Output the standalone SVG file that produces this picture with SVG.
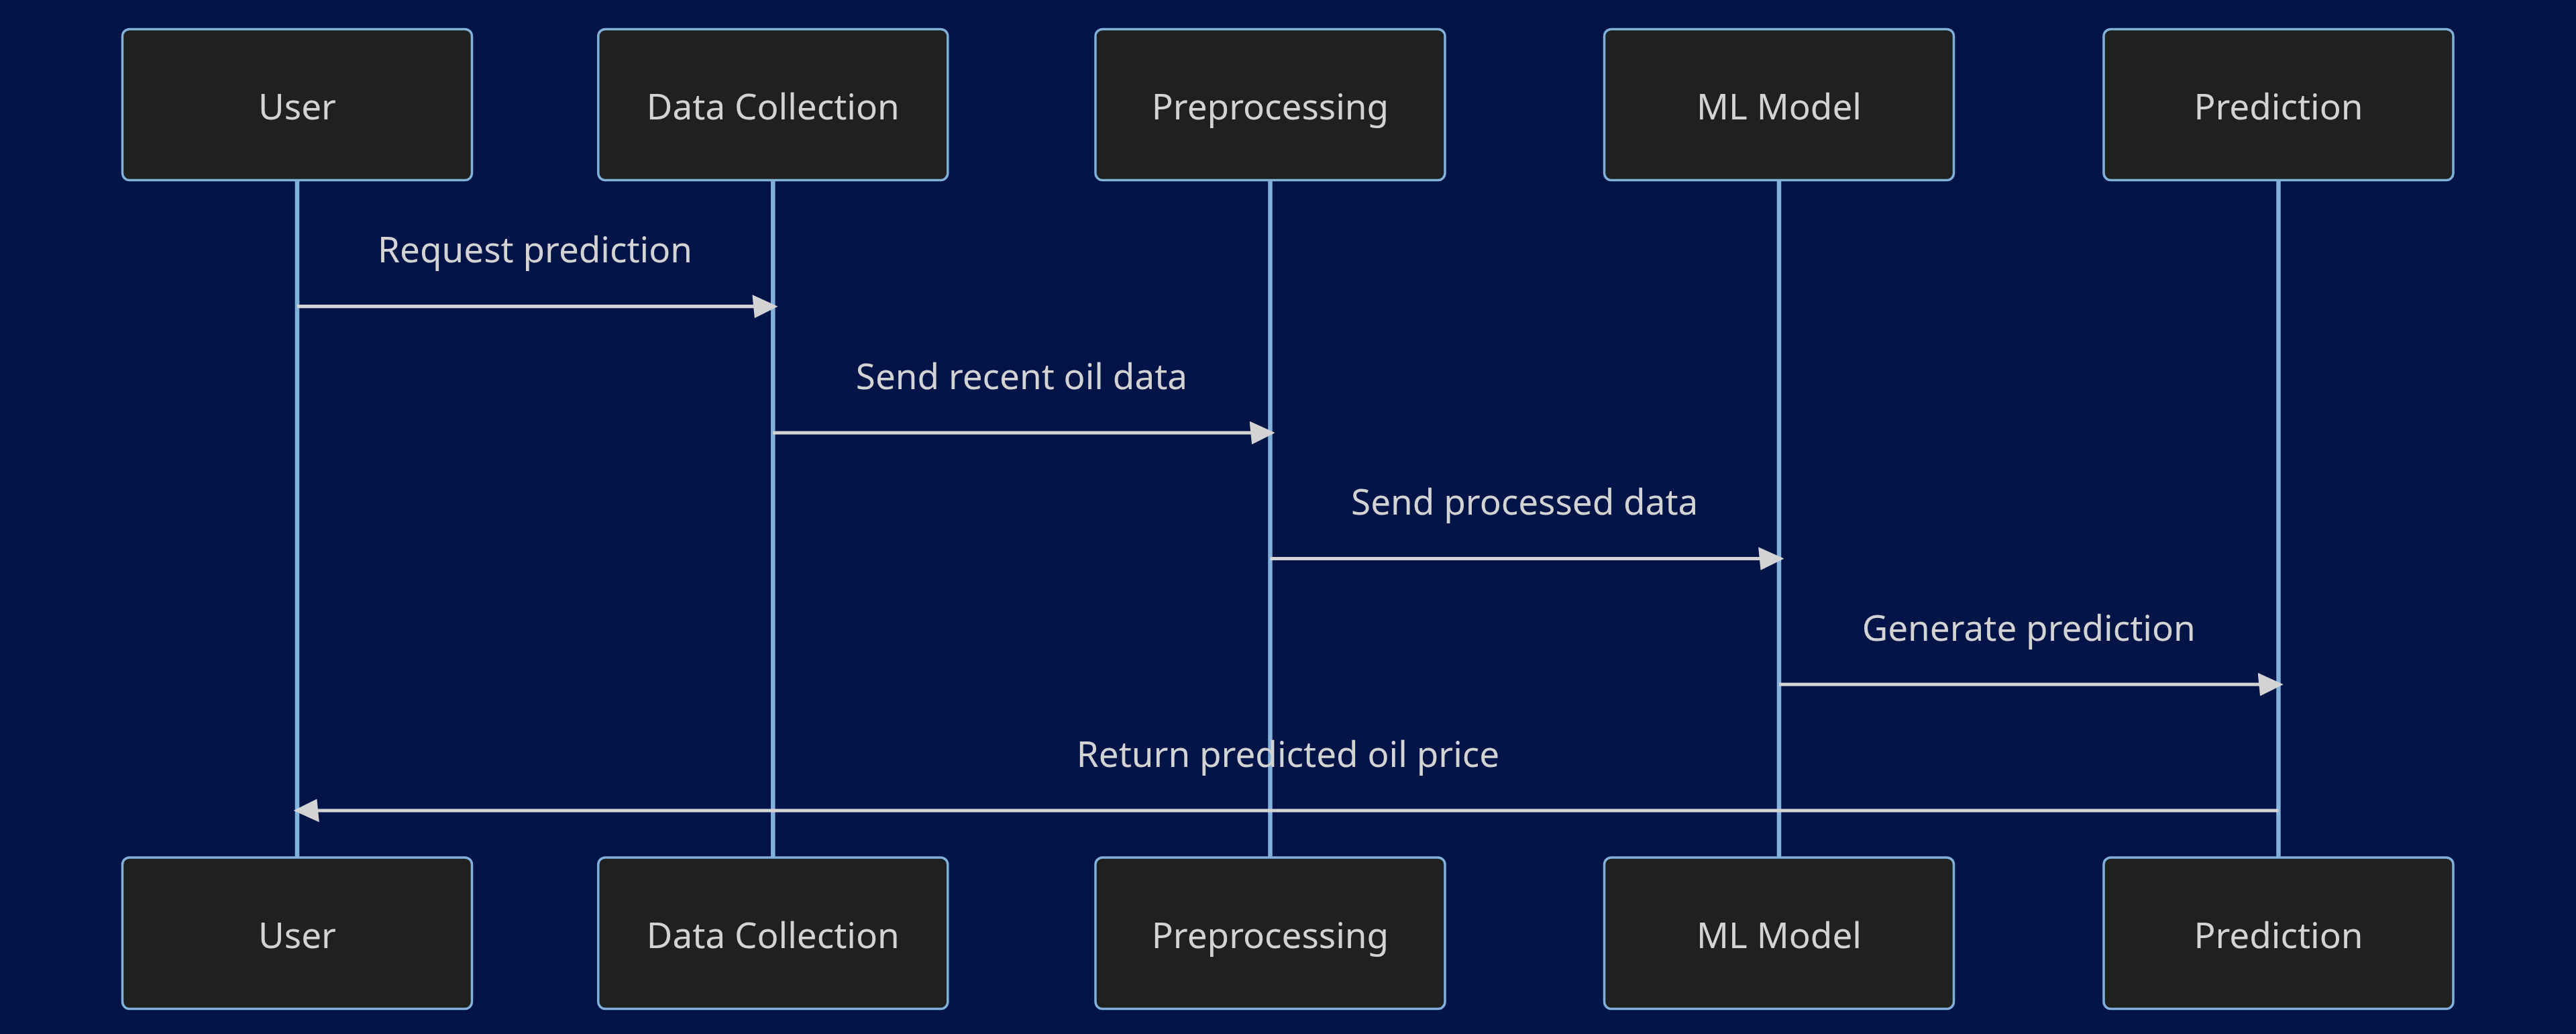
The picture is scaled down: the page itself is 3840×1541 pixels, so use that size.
<svg xmlns="http://www.w3.org/2000/svg" width="3840" height="1541" viewBox="0 0 3840 1541">
<style>
.bg{fill:#001447}
.actor{fill:#1f2020;stroke:#81b1db;stroke-width:3.5}
.atext{fill:#d3d3d3;font-family:"Noto Sans","Open Sans",sans-serif;font-size:53px;text-anchor:middle}
.life{stroke:#81b1db;stroke-width:6.5}
.msg{stroke:#d3d3d3;stroke-width:5.2;fill:none}
.mtext{fill:#d3d3d3;font-family:"Noto Sans","Open Sans",sans-serif;font-size:53px;text-anchor:middle}
</style>
<defs>
<marker id="arrow" viewBox="-1 0 11 10" refX="7.9" refY="5" markerWidth="38.2" markerHeight="34.7" markerUnits="userSpaceOnUse" orient="auto">
<path d="M -1 0 L 10 5 L 0 10 z" fill="#d3d3d3"/>
</marker>
</defs>
<rect class="bg" x="0" y="0" width="3840" height="1541"/>
<g id="lifelines">
<line class="life" x1="443" y1="268" x2="443" y2="1278"/>
<line class="life" x1="1152.3" y1="268" x2="1152.3" y2="1278"/>
<line class="life" x1="1893.5" y1="268" x2="1893.5" y2="1278"/>
<line class="life" x1="2652" y1="268" x2="2652" y2="1278"/>
<line class="life" x1="3396.5" y1="268" x2="3396.5" y2="1278"/>
</g>
<g id="user-top"><rect class="actor" x="182.5" y="43.5" width="521" height="225" rx="10.4"/><text class="atext" x="443" y="177.5">User</text></g>
<g id="datacollection-top"><rect class="actor" x="891.8" y="43.5" width="521" height="225" rx="10.4"/><text class="atext" x="1152.3" y="177.5">Data Collection</text></g>
<g id="preprocessing-top"><rect class="actor" x="1633" y="43.5" width="521" height="225" rx="10.4"/><text class="atext" x="1893.5" y="177.5">Preprocessing</text></g>
<g id="mlmodel-top"><rect class="actor" x="2391.5" y="43.5" width="521" height="225" rx="10.4"/><text class="atext" x="2652" y="177.5">ML Model</text></g>
<g id="prediction-top"><rect class="actor" x="3136" y="43.5" width="521" height="225" rx="10.4"/><text class="atext" x="3396.5" y="177.5">Prediction</text></g>
<g id="user-bottom"><rect class="actor" x="182.5" y="1278" width="521" height="225.5" rx="10.4"/><text class="atext" x="443" y="1412.5">User</text></g>
<g id="datacollection-bottom"><rect class="actor" x="891.8" y="1278" width="521" height="225.5" rx="10.4"/><text class="atext" x="1152.3" y="1412.5">Data Collection</text></g>
<g id="preprocessing-bottom"><rect class="actor" x="1633" y="1278" width="521" height="225.5" rx="10.4"/><text class="atext" x="1893.5" y="1412.5">Preprocessing</text></g>
<g id="mlmodel-bottom"><rect class="actor" x="2391.5" y="1278" width="521" height="225.5" rx="10.4"/><text class="atext" x="2652" y="1412.5">ML Model</text></g>
<g id="prediction-bottom"><rect class="actor" x="3136" y="1278" width="521" height="225.5" rx="10.4"/><text class="atext" x="3396.5" y="1412.5">Prediction</text></g>
<g id="connectors">
<line class="msg" x1="443" y1="456.7" x2="1152.3" y2="456.7" marker-end="url(#arrow)"/>
<text class="mtext" x="797.6" y="391.2">Request prediction</text>
<line class="msg" x1="1152.3" y1="645" x2="1893.5" y2="645" marker-end="url(#arrow)"/>
<text class="mtext" x="1522.9" y="579.5">Send recent oil data</text>
<line class="msg" x1="1893.5" y1="832.5" x2="2652" y2="832.5" marker-end="url(#arrow)"/>
<text class="mtext" x="2272.7" y="767">Send processed data</text>
<line class="msg" x1="2652" y1="1020" x2="3396.5" y2="1020" marker-end="url(#arrow)"/>
<text class="mtext" x="3024.2" y="954.5">Generate prediction</text>
<line class="msg" x1="3396.5" y1="1208" x2="445" y2="1208" marker-end="url(#arrow)"/>
<text class="mtext" x="1920" y="1142.5">Return predicted oil price</text>
</g>
</svg>
